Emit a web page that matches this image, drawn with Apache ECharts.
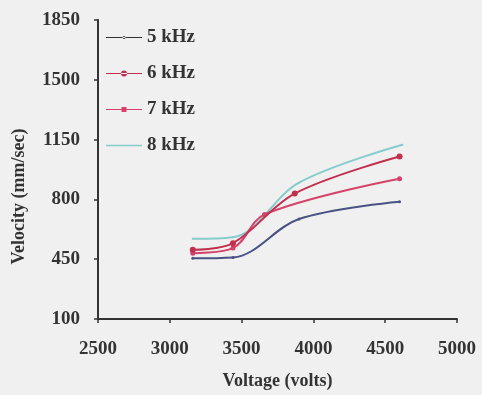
<!DOCTYPE html>
<html><head><meta charset="utf-8">
<script src="https://cdn.jsdelivr.net/npm/echarts@6/dist/echarts.min.js"></script>
<style>html,body{margin:0;padding:0;background:#f0f0f0;}#c{width:482px;height:395px;}</style>
</head><body><div id="c"></div>
<script>
const seriesNames = ['5 kHz', '6 kHz', '7 kHz', '8 kHz'];
const x5 = [3160, 3440, 3900, 4600];
const y5 = [455, 460, 685, 786];
const x6 = [3160, 3440, 3870, 4600];
const y6 = [505, 544, 834, 1051];
const x7 = [3160, 3440, 3660, 4600];
const y7 = [485, 515, 712, 921];
const x8 = [3160, 3440, 3900, 4620];
const y8 = [569, 578, 898, 1120];
const xTicks = [2500, 3000, 3500, 4000, 4500, 5000];
const yTicks = [100, 450, 800, 1150, 1500, 1850];

const colors = ['#4a5282', '#c2304e', '#d4426a', '#86cccc'];
const legendColors = ['#333333', '#c2304e', '#d4426a', '#86cccc'];
const markerSizes = [3, 6, 5, 2];
// legend icons: thin line with a centred marker (bounding box 36 x 6)
const legendIcons = [
  'path://M0,2.4L36,2.4L36,3.6L0,3.6Z M18,1.5a1.5,1.5 0 1,0 0.01,0Z M0,0L0.01,0L0.01,0.01Z M0,6L0.01,6L0.01,5.99Z',
  'path://M0,2.4L36,2.4L36,3.6L0,3.6Z M18,0a3,3 0 1,0 0.01,0Z',
  'path://M0,2.4L36,2.4L36,3.6L0,3.6Z M15.5,0.5L20.5,0.5L20.5,5.5L15.5,5.5Z M0,0L0.01,0L0.01,0.01Z M0,6L0.01,6L0.01,5.99Z',
  'path://M0,2.2L36,2.2L36,3.8L0,3.8Z M0,0L0.01,0L0.01,0.01Z M0,6L0.01,6L0.01,5.99Z'
];
const xs = [x5, x6, x7, x8], ys = [y5, y6, y7, y8];
const font = '"Liberation Serif", "Times New Roman", serif';
const plain = v => String(v);

const chart = echarts.init(document.getElementById('c'));
chart.setOption({
  backgroundColor: '#f0f0f0',
  animation: false,
  grid: { left: 98, right: 25, top: 20, bottom: 74 },
  legend: {
    orient: 'vertical', left: 101, top: 23, itemGap: 17, itemWidth: 36, itemHeight: 6,
    textStyle: { fontFamily: font, fontWeight: 'bold', fontSize: 19, color: '#333' },
    data: seriesNames.map((n, i) => ({ name: n, icon: legendIcons[i], itemStyle: { color: legendColors[i] } }))
  },
  xAxis: {
    type: 'value', min: xTicks[0], max: xTicks[xTicks.length - 1], interval: 500,
    splitLine: { show: false },
    axisLine: { lineStyle: { color: '#333', width: 2 } },
    axisTick: { show: true, length: 4, lineStyle: { color: '#333', width: 1.5 } },
    axisLabel: { fontFamily: font, fontWeight: 'bold', fontSize: 19, color: '#333', margin: 21, formatter: plain },
    name: 'Voltage (volts)', nameLocation: 'middle', nameGap: 53,
    nameTextStyle: { fontFamily: font, fontWeight: 'bold', fontSize: 18, color: '#333' }
  },
  yAxis: {
    type: 'value', min: yTicks[0], max: yTicks[yTicks.length - 1], interval: 350,
    splitLine: { show: false },
    axisLine: { show: true, lineStyle: { color: '#333', width: 2 } },
    axisTick: { show: true, length: 4, lineStyle: { color: '#333', width: 1.5 } },
    axisLabel: { fontFamily: font, fontWeight: 'bold', fontSize: 19, color: '#333', margin: 18, formatter: plain },
    name: 'Velocity (mm/sec)', nameLocation: 'middle', nameGap: 70,
    nameTextStyle: { fontFamily: font, fontWeight: 'bold', fontSize: 18, color: '#333', padding: [0, 54, 0, 0] }
  },
  series: seriesNames.map((n, i) => ({
    name: n, type: 'line', smooth: 0.35,
    data: xs[i].map((x, j) => [x, ys[i][j]]),
    symbol: 'circle', symbolSize: markerSizes[i], showSymbol: true,
    lineStyle: { color: colors[i], width: 2 },
    itemStyle: { color: colors[i] },
    z: 4 - i
  }))
});
</script></body></html>
